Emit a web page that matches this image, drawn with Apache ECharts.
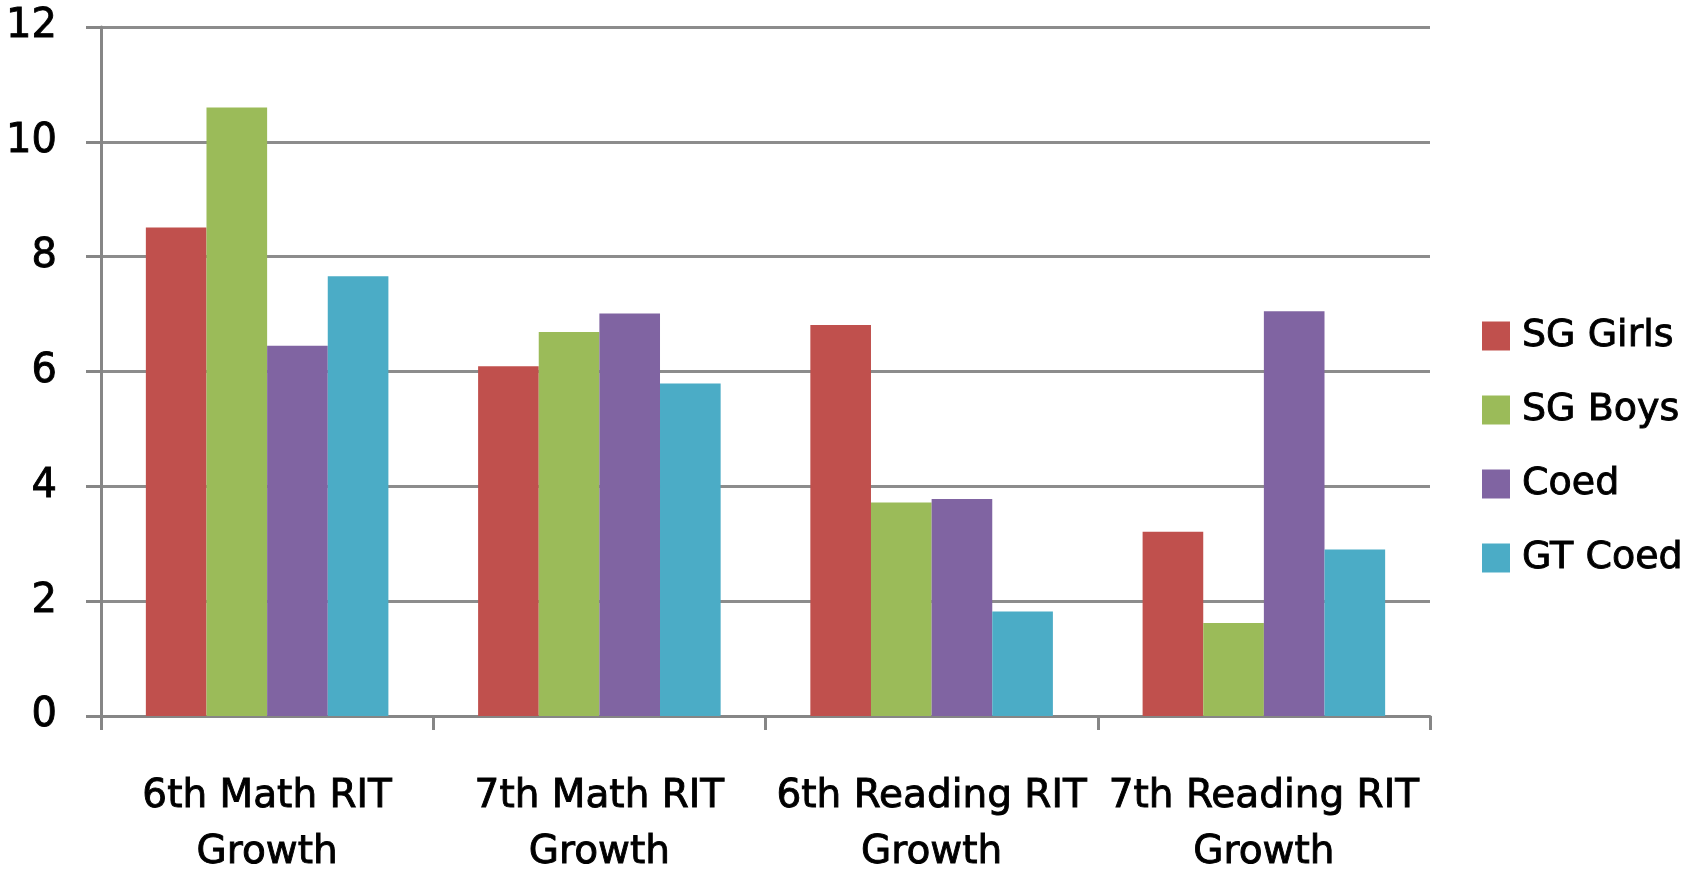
<!DOCTYPE html>
<html>
<head>
<meta charset="utf-8">
<script src="https://cdn.jsdelivr.net/npm/echarts@6/dist/echarts.min.js"></script>
<style>html,body{margin:0;padding:0;background:#fff}#c{width:1696px;height:871px}</style>
</head>
<body>
<div id="c"></div>
<script>
const categories = ['6th Math RIT\nGrowth', '7th Math RIT\nGrowth', '6th Reading RIT\nGrowth', '7th Reading RIT\nGrowth'];
const sgGirls = [8.51, 6.09, 6.81, 3.21];
const sgBoys = [10.60, 6.69, 3.72, 1.62];
const coed = [6.45, 7.01, 3.78, 7.05];
const gtCoed = [7.66, 5.79, 1.82, 2.90];
const yTicks = [0, 2, 4, 6, 8, 10, 12];

const font = 'DejaVu Sans';
const axisGray = '#868686';
const thick = { textBorderColor: '#000', textBorderWidth: 0.9 };
const chart = echarts.init(document.getElementById('c'));
const mk = (name, data, color) => ({
  name, type: 'bar', data, barGap: '0%', barCategoryGap: '27%',
  itemStyle: { color }
});
chart.setOption({
  animation: false,
  textStyle: { fontFamily: font },
  legend: {
    orient: 'vertical', left: 1477, top: 311,
    itemWidth: 28, itemHeight: 29, itemGap: 34,
    icon: 'rect',
    textStyle: Object.assign({ fontFamily: font, fontSize: 38, color: '#000', lineHeight: 40, padding: [0, 0, 0, 7] }, thick),
    data: ['SG Girls', 'SG Boys', 'Coed', 'GT Coed']
  },
  grid: { left: 101, right: 266, top: 27, bottom: 155, containLabel: false, outerBoundsMode: 'none' },
  xAxis: {
    type: 'category', data: categories,
    axisLine: { lineStyle: { color: axisGray, width: 3 } },
    axisTick: { show: true, length: 14, lineStyle: { color: axisGray, width: 3 } },
    axisLabel: Object.assign({ fontFamily: font, fontSize: 39, color: '#000', margin: 53, lineHeight: 56, interval: 0 }, thick)
  },
  yAxis: {
    type: 'value', min: yTicks[0], max: yTicks[yTicks.length - 1], interval: 2,
    axisLine: { show: true, lineStyle: { color: axisGray, width: 3 } },
    axisTick: { show: true, length: 15, lineStyle: { color: axisGray, width: 3 } },
    axisLabel: Object.assign({ fontFamily: font, fontSize: 40, color: '#000', margin: 44 }, thick),
    splitLine: { lineStyle: { color: '#8c8c8c', width: 3 } }
  },
  series: [
    mk('SG Girls', sgGirls, '#C0504D'),
    mk('SG Boys', sgBoys, '#9BBB59'),
    mk('Coed', coed, '#8064A2'),
    mk('GT Coed', gtCoed, '#4BACC6')
  ]
});
</script>
</body>
</html>
